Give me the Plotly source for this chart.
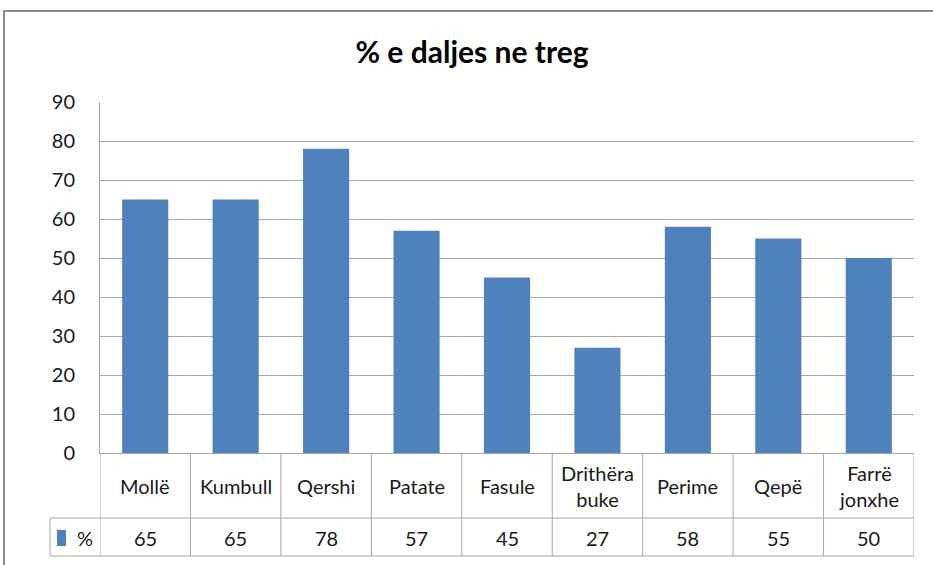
import plotly.graph_objects as go

categories = ["Mollë", "Kumbull", "Qershi", "Patate", "Fasule", "Drithëra<br>buke", "Perime", "Qepë", "Farrë<br>jonxhe"]
values = [65, 65, 78, 57, 45, 27, 58, 55, 50]
series_name = "%"
y_ticks = list(range(0, 91, 10))

W, H = 933, 565
L, R, T, B = 100, 933 - 914, 102, 565 - 453
PW, PH = W - L - R, H - T - B

def px_x(px):
    return (px - L) / PW

def px_y(py):
    return (H - B - py) / PH

BAR = "#4F81BD"
GRID = "#A6A6A6"
TXT = "#1a1a1a"
FONT = "Lato"
FS = 20

fig = go.Figure(go.Bar(x=list(range(len(categories))), y=values, marker_color=BAR,
                       marker_line_width=0, name=series_name, showlegend=False))

shapes = []
line = dict(color=GRID, width=1)
row1_bottom = px_y(518)
row2_bottom = px_y(556)
for i in range(len(categories) + 1):
    shapes.append(dict(type="line", xref="x", yref="paper", x0=i - 0.5, x1=i - 0.5,
                       y0=0, y1=row2_bottom, line=line, layer="above"))
shapes.append(dict(type="line", xref="paper", yref="paper", x0=px_x(50), x1=1,
                   y0=row1_bottom, y1=row1_bottom, line=line))
shapes.append(dict(type="line", xref="paper", yref="paper", x0=px_x(50), x1=1,
                   y0=row2_bottom, y1=row2_bottom, line=line))
shapes.append(dict(type="line", xref="paper", yref="paper", x0=px_x(50), x1=px_x(50),
                   y0=row1_bottom, y1=row2_bottom, line=line))
shapes.append(dict(type="rect", xref="paper", yref="paper", x0=px_x(57), x1=px_x(66),
                   y0=px_y(546), y1=px_y(530), fillcolor=BAR, line_width=0))
shapes.append(dict(type="rect", xref="paper", yref="paper", x0=px_x(4), x1=px_x(945),
                   y0=px_y(580), y1=px_y(11), line=dict(color="#8C8C8C", width=2),
                   fillcolor="rgba(0,0,0,0)"))

annotations = []
for i, (c, v) in enumerate(zip(categories, values)):
    annotations.append(dict(x=i, y=px_y(486), xref="x", yref="paper", text=c, showarrow=False,
                            font=dict(size=FS, color=TXT, family=FONT), xanchor="center", yanchor="middle"))
    annotations.append(dict(x=i, y=px_y(538), xref="x", yref="paper", text=str(v), showarrow=False,
                            font=dict(size=FS, color=TXT, family=FONT), xanchor="center", yanchor="middle"))
annotations.append(dict(x=px_x(85), y=px_y(538), xref="paper", yref="paper", text=series_name,
                        showarrow=False, font=dict(size=FS, color=TXT, family=FONT),
                        xanchor="center", yanchor="middle"))

fig.update_layout(
    width=W, height=H,
    margin=dict(l=L, r=R, t=T, b=B),
    paper_bgcolor="white", plot_bgcolor="white",
    title=dict(text="<b>% e daljes ne treg</b>", x=472 / W, xanchor="center",
               y=1 - 52 / H, yanchor="middle",
               font=dict(size=30, color="black", family=FONT)),
    bargap=0.49,
    shapes=shapes,
    annotations=annotations,
    font=dict(family=FONT, color=TXT),
)
fig.update_xaxes(range=[-0.5, len(categories) - 0.5], showticklabels=False, showgrid=False,
                 showline=True, linecolor=GRID, linewidth=1, zeroline=False)
fig.update_yaxes(range=[0, 90], tickvals=y_ticks, showgrid=True, gridcolor=GRID, gridwidth=1,
                 showline=True, linecolor=GRID, linewidth=1, zeroline=False,
                 tickfont=dict(size=FS, color=TXT, family=FONT), ticks="", ticklabelstandoff=20)

fig.write_html("out.html", config={"displayModeBar": False},
               post_script="document.body.style.margin='0';document.body.style.overflow='hidden';")
